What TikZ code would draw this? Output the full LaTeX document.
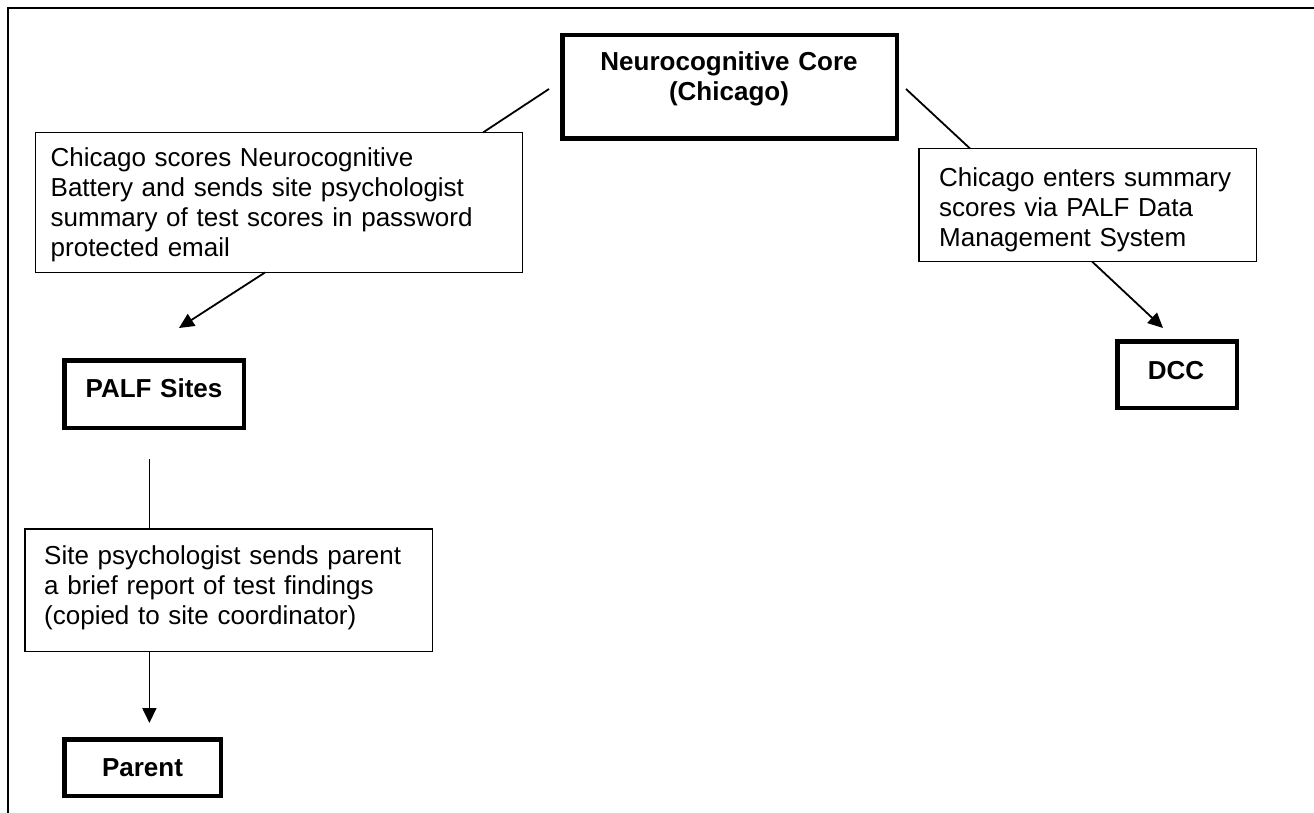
\documentclass[tikz,border=0pt]{standalone}
\usepackage{fontspec}
\setmainfont{Liberation Sans}
\usetikzlibrary{arrows.meta}
\tikzset{
  thickbox/.style={draw, line width=4.5pt, rectangle, inner sep=0pt},
  thinbox/.style={draw, line width=1.5pt, rectangle, inner sep=0pt},
  boldtxt/.style={font=\bfseries\fontsize{26}{30}\selectfont, inner sep=0pt, align=center, anchor=base},
  bodytxt/.style={font=\fontsize{26}{30}\selectfont, inner sep=0pt, align=left, anchor=base west},
  conn/.style={line width=1.8pt},
  arr/.style={conn, -{Triangle[length=15pt,width=14pt]}},
  frame/.style={line width=2pt},
}
\begin{document}
\begin{tikzpicture}[x=1pt,y=-1pt]
\useasboundingbox (0,0) rectangle (1314,813);
% frame
\draw[frame] (7.5,813) -- (7.5,8) -- (1314,8);
% boxes
\node[thickbox, minimum width=334.5pt, minimum height=103.5pt] (neuro) at (729.5,87) {};
\node[boldtxt, text width=330pt] (neurot) at (729,71) {Neurocognitive Core\\(Chicago)};
\node[thinbox, minimum width=487pt, minimum height=139.5pt] (chi) at (278.75,202.5) {};
\node[bodytxt, text width=470pt] (chit) at (50.5,167) {Chicago scores Neurocognitive\\Battery and sends site psychologist\\summary of test scores in password\\protected email};
\node[thinbox, minimum width=337.5pt, minimum height=112.5pt] (dcct) at (1087.5,205) {};
\node[bodytxt, text width=320pt] (dcctt) at (939,186) {Chicago enters summary\\scores via PALF Data\\Management System};
\node[thickbox, minimum width=179.5pt, minimum height=67.5pt] (palf) at (154,394) {};
\node[boldtxt, text width=175pt] (palft) at (154,397) {PALF Sites};
\node[thinbox, minimum width=407.5pt, minimum height=122.5pt] (site) at (228.5,590) {};
\node[bodytxt, text width=390pt] (sitet) at (44,564) {Site psychologist sends parent\\a brief report of test findings\\(copied to site coordinator)};
\node[thickbox, minimum width=156.5pt, minimum height=56.5pt] (parent) at (142.5,767.5) {};
\node[boldtxt, text width=150pt] (parentt) at (142.5,776) {Parent};
\node[thickbox, minimum width=119.5pt, minimum height=66.5pt] (dcc) at (1177,374.5) {};
\node[boldtxt, text width=115pt] (dcct2) at (1176,379) {DCC};
% connector end points
\coordinate (a1) at (549,89);
\coordinate (a2) at (483,132.5);
\coordinate (b1) at (265,272.5);
\coordinate (b2) at (179,328);
\coordinate (c1) at (906,89);
\coordinate (c2) at (970,148.5);
\coordinate (d1) at (1092,261.5);
\coordinate (d2) at (1163,328);
\coordinate (e1) at (149.4,459);
\coordinate (e2) at (149.4,528.5);
\coordinate (f1) at (149.4,651.5);
\coordinate (f2) at (149.4,723);
% connectors
\draw[conn] (a1) -- (a2);
\draw[arr] (b1) -- (b2);
\draw[conn] (c1) -- (c2);
\draw[arr] (d1) -- (d2);
\draw[conn] (e1) -- (e2);
\draw[arr] (f1) -- (f2);
\end{tikzpicture}
\end{document}
